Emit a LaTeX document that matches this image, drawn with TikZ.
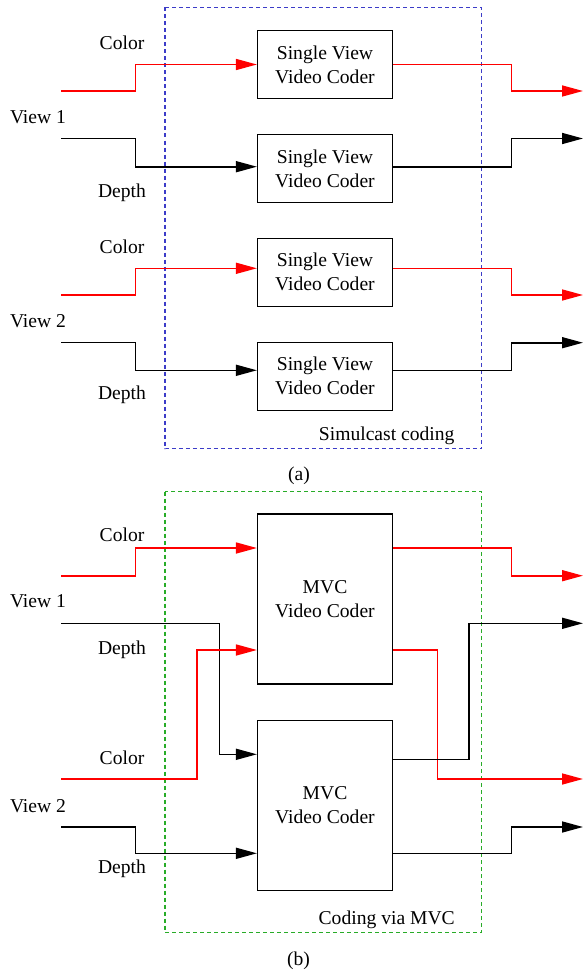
\documentclass[tikz,border=0pt]{standalone}
\usepackage{fontspec}
\setmainfont{Liberation Serif}
\usepackage{tikz}
\usetikzlibrary{arrows.meta}
\definecolor{simblue}{RGB}{60,60,200}
\definecolor{mvcgreen}{RGB}{40,172,40}

\begin{document}
\begin{tikzpicture}[x=0.5pt, y=-0.5pt, font=\fontsize{9.8}{12}\selectfont,
  coder/.style={draw, line width=0.6pt, minimum width=67.5pt, align=center, inner sep=0pt},
  svc/.style={coder, minimum height=34pt},
  mvc/.style={coder, minimum height=85pt},
  sig/.style={line width=0.8pt, -{Triangle[length=10.5pt, width=5.5pt]}},
  colsig/.style={sig, red},
  depsig/.style={sig, black},
  group/.style={line width=0.65pt, dash pattern=on 2pt off 1.5pt}]
  \useasboundingbox (0,0) rectangle (583,974);

  % (a) simulcast
  \draw[group, simblue] (165,7.5) rectangle (481.7,448.7);
  \node[svc] (sv1) at (325,64.5) {Single View\\Video Coder};
  \node[svc] (sv2) at (325,168.7) {Single View\\Video Coder};
  \node[svc] (sv3) at (325,272.3) {Single View\\Video Coder};
  \node[svc] (sv4) at (325,376.3) {Single View\\Video Coder};

  \node (lc1) at (122,43) {Color};
  \node (lv1) at (38,117) {View 1};
  \node (ld1) at (122,193) {Depth};
  \node (lc2) at (122,246.7) {Color};
  \node (lv2) at (38,321) {View 2};
  \node (ld2) at (122,395) {Depth};

  \coordinate (ac1) at (61,91);
  \coordinate (ad1) at (61,138.5);
  \coordinate (ac2) at (61,295);
  \coordinate (ad2) at (61,342.3);
  \coordinate (oc1) at (583,91);
  \coordinate (od1) at (583,138.5);
  \coordinate (oc2) at (583,295);
  \coordinate (od2) at (583,342.7);

  \draw[colsig] (ac1) -- ++(74.5,0) |- (sv1.west);
  \draw[depsig] (ad1) -- ++(74.5,0) |- ([yshift=1pt]sv2.west);
  \draw[colsig] (ac2) -- ++(74.5,0) |- ([yshift=2pt]sv3.west);
  \draw[depsig] (ad2) -- ++(74.5,0) |- ([yshift=3pt]sv4.west);
  \draw[colsig] (sv1.east) -- ++(118.5,0) |- (oc1);
  \draw[depsig] ([yshift=1pt]sv2.east) -- ++(118.5,0) |- (od1);
  \draw[colsig] ([yshift=2pt]sv3.east) -- ++(118.5,0) |- (oc2);
  \draw[depsig] ([yshift=3pt]sv4.east) -- ++(118.5,0) |- (od2);

  \node (simcap) at (386.7,436) {Simulcast coding};
  \node (capa) at (299,476) {(a)};

  % (b) MVC
  \draw[group, mvcgreen] (165,491.7) rectangle (481.7,932.3);
  \node[mvc] (mv1) at (325,599) {MVC\\Video Coder};
  \node[mvc] (mv2) at (325,805.3) {MVC\\Video Coder};

  \node (lc3) at (122,534.3) {Color};
  \node (lv3) at (38,601) {View 1};
  \node (ld3) at (122,649.3) {Depth};
  \node (lc4) at (122,757.3) {Color};
  \node (lv4) at (38,806) {View 2};
  \node (ld4) at (122,868.3) {Depth};

  \coordinate (bc1) at (61,575.7);
  \coordinate (bd1) at (61,623.3);
  \coordinate (bc2) at (61,779);
  \coordinate (bd2) at (61,826.7);
  \coordinate (pc1) at (583,575.7);
  \coordinate (pd1) at (583,623.3);
  \coordinate (pc2) at (583,779);
  \coordinate (pd2) at (583,827);

  \draw[colsig] (bc1) -- ++(74.5,0) |- ([yshift=25.5pt]mv1.west);
  \draw[depsig] (bd1) -- ++(158.3,0) |- ([yshift=25.5pt]mv2.west);
  \draw[colsig] (bc2) -- ++(135.7,0) |- ([yshift=-25.5pt]mv1.west);
  \draw[depsig] (bd2) -- ++(74.5,0) |- ([yshift=-24pt]mv2.west);
  \draw[colsig] ([yshift=25.5pt]mv1.east) -- ++(118.5,0) |- (pc1);
  \draw[colsig] ([yshift=-25.5pt]mv1.east) -- ++(44.2,0) |- (pc2);
  \draw[depsig] ([yshift=23pt]mv2.east) -- ++(75.8,0) |- (pd1);
  \draw[depsig] ([yshift=-24pt]mv2.east) -- ++(118.5,0) |- (pd2);

  \node (mvccap) at (386.7,920) {Coding via MVC};
  \node (capb) at (298.5,961) {(b)};
\end{tikzpicture}
\end{document}
